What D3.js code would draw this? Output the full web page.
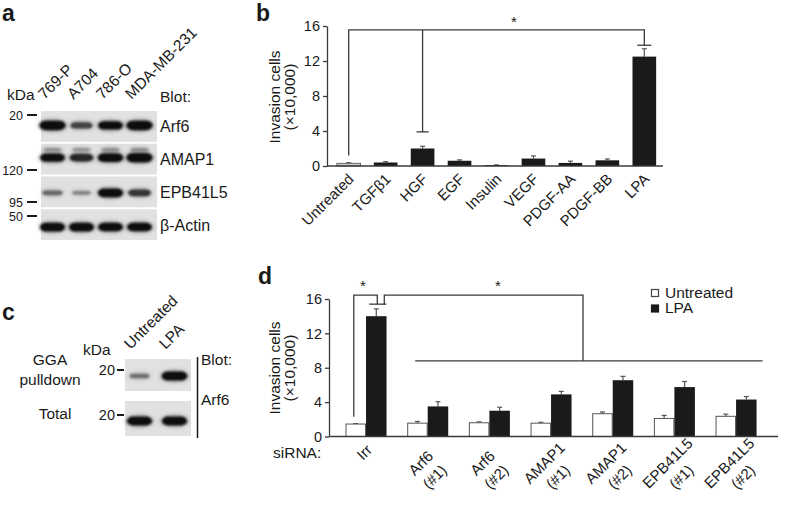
<!DOCTYPE html>
<html><head><meta charset="utf-8">
<script src="https://cdn.jsdelivr.net/npm/d3@7"></script>
<style>
body{margin:0;background:#fff}
svg{display:block}
text{font-family:"Liberation Sans",Arial,Helvetica,sans-serif;fill:#1a1a1a}
</style>
</head><body>
<svg id="fig" width="788" height="506"></svg>
<script>
// ---------- DATA ----------
// Panel a: western blot (relative band intensities 0..1)
const blotLanesA = ["769-P", "A704", "786-O", "MDA-MB-231"];
const blotProteinsA = ["Arf6", "AMAP1", "EPB41L5", "β-Actin"];
const bandArf6 = [1.0, 0.55, 0.85, 1.0];
const bandAMAP1 = [0.85, 0.72, 0.92, 1.0];
const bandEPB41L5 = [0.35, 0.18, 0.9, 0.62];
const bandActin = [0.88, 0.88, 0.86, 0.86];
const markersA = ["20", "120", "95", "50"];

// Panel c: GGA pulldown blot
const blotLanesC = ["Untreated", "LPA"];
const blotRowsC = ["GGA\npulldown", "Total"];
const bandGGA = [0.3, 0.95];
const bandTotal = [0.9, 0.9];
const markersC = ["20", "20"];

// Panel b: invasion by growth factor
const catsB = ["Untreated", "TGFβ1", "HGF", "EGF", "Insulin", "VEGF", "PDGF-AA", "PDGF-BB", "LPA"];
const valsB = [0.3, 0.4, 2.0, 0.6, 0.1, 0.85, 0.35, 0.65, 12.5];
const errsB = [0.08, 0.1, 0.25, 0.1, 0.03, 0.3, 0.2, 0.15, 0.9];
const ticksB = [0, 4, 8, 12, 16];

// Panel d: siRNA knockdown
const groupsD = [["Irr"], ["Arf6", "(#1)"], ["Arf6", "(#2)"], ["AMAP1", "(#1)"], ["AMAP1", "(#2)"], ["EPB41L5", "(#1)"], ["EPB41L5", "(#2)"]];
const seriesD = ["Untreated", "LPA"];
const untreatedD = [1.45, 1.55, 1.6, 1.55, 2.65, 2.1, 2.35];
const untreatedErrD = [0.05, 0.2, 0.1, 0.1, 0.2, 0.35, 0.25];
const lpaD = [14.0, 3.5, 3.0, 4.9, 6.55, 5.75, 4.3];
const lpaErrD = [0.85, 0.55, 0.4, 0.35, 0.45, 0.65, 0.35];
const ticksD = [0, 4, 8, 12, 16];

// ---------- DRAW ----------
const svg = d3.select("#fig");
const defs = svg.append("defs");
defs.append("filter").attr("id", "blur").attr("x", "-30%").attr("y", "-80%").attr("width", "160%").attr("height", "260%")
  .append("feGaussianBlur").attr("stdDeviation", 1.3);
defs.append("filter").attr("id", "blur2").attr("x", "-30%").attr("y", "-80%").attr("width", "160%").attr("height", "260%")
  .append("feGaussianBlur").attr("stdDeviation", 2.2);

const INK = "#1a1a1a", AX = "#3a3a3a";

// panel letters
[["a", 2, 21], ["b", 256, 21], ["c", 2, 320], ["d", 258, 284]].forEach(([t, x, y]) =>
  svg.append("text").attr("x", x).attr("y", y).attr("font-size", 23).attr("font-weight", "bold").text(t));

function band(g, cx, cy, inten, wScale) {
  const w = (17 + 9 * inten) * (wScale || 1), h = 2.5 + 7 * inten;
  const col = d3.interpolateRgb("#bdbdbd", "#0e0e0e")(Math.min(1, 0.15 + inten));
  g.append("ellipse").attr("cx", cx).attr("cy", cy).attr("rx", w / 2 + 1.5).attr("ry", h / 2 + 1.5)
    .attr("fill", col).attr("opacity", 0.35).attr("filter", "url(#blur2)");
  g.append("rect").attr("x", cx - w / 2).attr("y", cy - h / 2).attr("width", w).attr("height", h)
    .attr("rx", Math.min(w / 2, h / 2 + 2)).attr("ry", h / 2)
    .attr("fill", col).attr("filter", "url(#blur)");
}

// ----- Panel a -----
(function () {
  const g = svg.append("g");
  const lane = d3.scaleBand().domain(blotLanesA).range([38, 154]);
  const row = d3.scaleBand().domain(blotProteinsA).range([111, 240]).paddingInner(0.06);
  const bands = [bandArf6, bandAMAP1, bandEPB41L5, bandActin];
  blotProteinsA.forEach((p, i) => {
    const y0 = row(p), h = row.bandwidth();
    g.append("rect").attr("x", 41).attr("y", y0).attr("width", 116).attr("height", h).attr("fill", "#e1e1e1");
    const cy = y0 + h / 2 + [-1, -1.5, 1, 2.5][i];
    if (p === "AMAP1") {
      bands[i].forEach((v, j) => band(g, lane(blotLanesA[j]) + lane.bandwidth() / 2, cy - 8, v * 0.12));
    }
    bands[i].forEach((v, j) => band(g, lane(blotLanesA[j]) + lane.bandwidth() / 2, cy, v));
    g.append("text").attr("x", 160).attr("y", y0 + h / 2 + 6).attr("font-size", 16).text(p);
  });
  blotLanesA.forEach(l => {
    const x = lane(l) + lane.bandwidth() / 2 - 8;
    g.append("text").attr("transform", `translate(${x},100) rotate(-45)`).attr("font-size", 15.5).text(l);
  });
  g.append("text").attr("x", 7).attr("y", 100).attr("font-size", 15.5).text("kDa");
  g.append("text").attr("x", 160).attr("y", 102).attr("font-size", 15.5).text("Blot:");
  const my = [115, 170, 202, 216];
  markersA.forEach((m, i) => {
    g.append("text").attr("x", 23).attr("y", my[i] + 4.5).attr("text-anchor", "end").attr("font-size", 12.5).text(m);
    g.append("line").attr("x1", 27).attr("x2", 37).attr("y1", my[i]).attr("y2", my[i]).attr("stroke", INK).attr("stroke-width", 2);
  });
})();

// ----- Panel c -----
(function () {
  const g = svg.append("g");
  const lane = d3.scaleBand().domain(blotLanesC).range([122, 192]);
  const boxes = [[359, 32], [401, 35]];
  const bands = [bandGGA, bandTotal];
  const offs = [17, 20];
  boxes.forEach(([y0, h], i) => {
    g.append("rect").attr("x", 125).attr("y", y0).attr("width", 66).attr("height", h).attr("fill", "#e1e1e1");
    bands[i].forEach((v, j) => band(g, lane(blotLanesC[j]) + lane.bandwidth() / 2, y0 + offs[i], v, 1.0));
    g.append("text").attr("x", 115).attr("y", [370, 415][i] + 5).attr("text-anchor", "end").attr("font-size", 14.5).text(markersC[i]);
    g.append("line").attr("x1", 117).attr("x2", 124).attr("y1", [370, 415][i]).attr("y2", [370, 415][i]).attr("stroke", INK).attr("stroke-width", 2);
  });
  blotLanesC.forEach(l => {
    const x = lane(l) + lane.bandwidth() / 2 - 9;
    g.append("text").attr("transform", `translate(${x},350) rotate(-45)`).attr("font-size", 15.5).text(l);
  });
  g.append("text").attr("x", 83).attr("y", 355).attr("font-size", 15.5).text("kDa");
  const rowTxt = blotRowsC.map(s => s.split("\n"));
  g.append("text").attr("x", 50).attr("y", 365).attr("text-anchor", "middle").attr("font-size", 15.5).text(rowTxt[0][0]);
  g.append("text").attr("x", 50).attr("y", 385).attr("text-anchor", "middle").attr("font-size", 15.5).text(rowTxt[0][1]);
  g.append("text").attr("x", 55).attr("y", 419).attr("text-anchor", "middle").attr("font-size", 15.5).text(rowTxt[1][0]);
  g.append("line").attr("x1", 197.5).attr("x2", 197.5).attr("y1", 357).attr("y2", 438).attr("stroke", INK).attr("stroke-width", 1.5);
  g.append("text").attr("x", 201).attr("y", 365).attr("font-size", 15.5).text("Blot:");
  g.append("text").attr("x", 201).attr("y", 405).attr("font-size", 15.5).text("Arf6");
})();

function yAxis(g, y, ticks, x0) {
  const ax = g.append("g").attr("transform", `translate(${x0},0)`)
    .call(d3.axisLeft(y).tickValues(ticks).tickSize(4).tickSizeOuter(0).tickPadding(3));
  ax.select(".domain").attr("stroke", AX).attr("stroke-width", 1.3);
  ax.selectAll(".tick line").attr("stroke", AX).attr("stroke-width", 1.3);
  ax.selectAll(".tick text").attr("font-size", 14.5).attr("font-family", null).attr("fill", "#1a1a1a");
  return ax;
}
function yTitle(g, x1, x2, yc) {
  g.append("text").attr("transform", `translate(${x1},${yc}) rotate(-90)`).attr("text-anchor", "middle").attr("font-size", 15.5).text("Invasion cells");
  g.append("text").attr("transform", `translate(${x2},${yc}) rotate(-90)`).attr("text-anchor", "middle").attr("font-size", 15.5).text("(×10,000)");
}
function bracketPath(g, pts) {
  g.append("path").attr("d", d3.line()(pts)).attr("fill", "none").attr("stroke", AX).attr("stroke-width", 1.3);
}

// ----- Panel b -----
(function () {
  const g = svg.append("g");
  const x = d3.scaleBand().domain(catsB).range([330.2, 662.8]).paddingInner(0.36).paddingOuter(0.18);
  const y = d3.scaleLinear().domain([0, 16]).range([166, 26]);
  const cx = c => x(c) + x.bandwidth() / 2;
  catsB.forEach((c, i) => {
    g.append("line").attr("x1", cx(c)).attr("x2", cx(c)).attr("y1", y(valsB[i])).attr("y2", y(valsB[i] + errsB[i])).attr("stroke", "#555").attr("stroke-width", 1.2);
    g.append("line").attr("x1", cx(c) - 2.5).attr("x2", cx(c) + 2.5).attr("y1", y(valsB[i] + errsB[i])).attr("y2", y(valsB[i] + errsB[i])).attr("stroke", "#555").attr("stroke-width", 1.2);
  });
  g.selectAll("rect.bar").data(catsB).join("rect").attr("class", "bar")
    .attr("x", c => x(c)).attr("width", x.bandwidth())
    .attr("y", (c, i) => y(valsB[i])).attr("height", (c, i) => y(0) - y(valsB[i]))
    .attr("fill", (c, i) => i === 0 ? "#cfcfcf" : INK)
    .attr("stroke", (c, i) => i === 0 ? "#666" : "none").attr("stroke-width", 1);
  yAxis(g, y, ticksB, 327);
  g.append("line").attr("x1", 327).attr("x2", 663).attr("y1", y(0)).attr("y2", y(0)).attr("stroke", AX).attr("stroke-width", 1.3);
  yTitle(g, 280, 295, 97);
  catsB.forEach(c => {
    g.append("text").attr("transform", `translate(${cx(c) + 6},180) rotate(-45)`).attr("text-anchor", "end").attr("font-size", 15).text(c);
  });
  const top = 15.55;
  bracketPath(g, [[cx("Untreated"), y(1.2)], [cx("Untreated"), y(top)], [cx("LPA"), y(top)], [cx("LPA"), y(13.8)]]);
  bracketPath(g, [[cx("LPA") - 7, y(13.8)], [cx("LPA") + 7, y(13.8)]]);
  bracketPath(g, [[cx("HGF"), y(top)], [cx("HGF"), y(3.9)]]);
  bracketPath(g, [[cx("HGF") - 6, y(3.9)], [cx("HGF") + 6, y(3.9)]]);
  g.append("text").attr("x", 514).attr("y", 27).attr("text-anchor", "middle").attr("font-size", 15).text("*");
})();

// ----- Panel d -----
(function () {
  const g = svg.append("g");
  const keys = groupsD.map(a => a.join(" "));
  const x = d3.scaleBand().domain(keys).range([335.2, 766.9]).paddingInner(0.335).paddingOuter(0.1675);
  const sub = d3.scaleBand().domain(seriesD).range([0, x.bandwidth()]);
  const y = d3.scaleLinear().domain([0, 16]).range([436.5, 299]);
  const vals = [untreatedD, lpaD], errs = [untreatedErrD, lpaErrD];
  const bx = (k, s) => x(k) + sub(s);
  const bc = (k, s) => bx(k, s) + sub.bandwidth() / 2;
  seriesD.forEach((s, si) => {
    keys.forEach((k, i) => {
      const v = vals[si][i], e = errs[si][i];
      g.append("line").attr("x1", bc(k, s)).attr("x2", bc(k, s)).attr("y1", y(v)).attr("y2", y(v + e)).attr("stroke", "#555").attr("stroke-width", 1.2);
      g.append("line").attr("x1", bc(k, s) - 2.5).attr("x2", bc(k, s) + 2.5).attr("y1", y(v + e)).attr("y2", y(v + e)).attr("stroke", "#555").attr("stroke-width", 1.2);
    });
    g.selectAll("rect.s" + si).data(keys).join("rect").attr("class", "s" + si)
      .attr("x", k => bx(k, s) + (si === 0 ? 0.5 : 0)).attr("width", sub.bandwidth() - (si === 0 ? 1 : 0))
      .attr("y", (k, i) => y(vals[si][i])).attr("height", (k, i) => y(0) - y(vals[si][i]))
      .attr("fill", si === 0 ? "#fff" : INK).attr("stroke", si === 0 ? "#555" : "none").attr("stroke-width", 1);
  });
  yAxis(g, y, ticksD, 329);
  g.append("line").attr("x1", 329).attr("x2", 778).attr("y1", y(0)).attr("y2", y(0)).attr("stroke", AX).attr("stroke-width", 1.3);
  yTitle(g, 280, 295, 368);
  g.append("text").attr("x", 273).attr("y", 458).attr("font-size", 15.5).text("siRNA:");
  groupsD.forEach((lines, i) => {
    const c = x(keys[i]) + x.bandwidth() / 2;
    if (lines.length === 1) {
      g.append("text").attr("transform", `translate(${c + 7},451) rotate(-45)`).attr("text-anchor", "end").attr("font-size", 15).text(lines[0]);
    } else {
      const t = g.append("text").attr("transform", `translate(${c},470) rotate(-45)`).attr("text-anchor", "middle").attr("font-size", 15);
      t.append("tspan").attr("x", 0).attr("y", -4.5).text(lines[0]);
      t.append("tspan").attr("x", 0).attr("y", 15).text(lines[1]);
    }
  });
  const k0 = keys[0], top = 16.45;
  const uIrr = bc(k0, "Untreated"), lIrr = bc(k0, "LPA");
  bracketPath(g, [[uIrr - 2, y(2.3)], [uIrr - 2, y(top)], [lIrr + 1, y(top)], [lIrr + 1, y(15.4)]]);
  bracketPath(g, [[lIrr - 7, y(15.4)], [lIrr + 10, y(15.4)]]);
  bracketPath(g, [[lIrr + 8, y(15.4)], [lIrr + 8, y(top)], [583, y(top)], [583, y(8.8)]]);
  bracketPath(g, [[x(keys[1]) + 8, y(8.8)], [x(keys[6]) + x.bandwidth() + 6, y(8.8)]]);
  g.append("text").attr("x", 363).attr("y", 291).attr("text-anchor", "middle").attr("font-size", 15).text("*");
  g.append("text").attr("x", 498).attr("y", 291).attr("text-anchor", "middle").attr("font-size", 15).text("*");
  seriesD.forEach((s, i) => {
    g.append("rect").attr("x", 651.5).attr("y", 289.5 + i * 15.5).attr("width", 7).attr("height", 7)
      .attr("fill", i === 0 ? "#fff" : INK).attr("stroke", i === 0 ? "#444" : INK).attr("stroke-width", 1.2);
    g.append("text").attr("x", 665).attr("y", 297.5 + i * 15.5).attr("font-size", 15.5).text(s);
  });
})();
</script>
</body></html>
